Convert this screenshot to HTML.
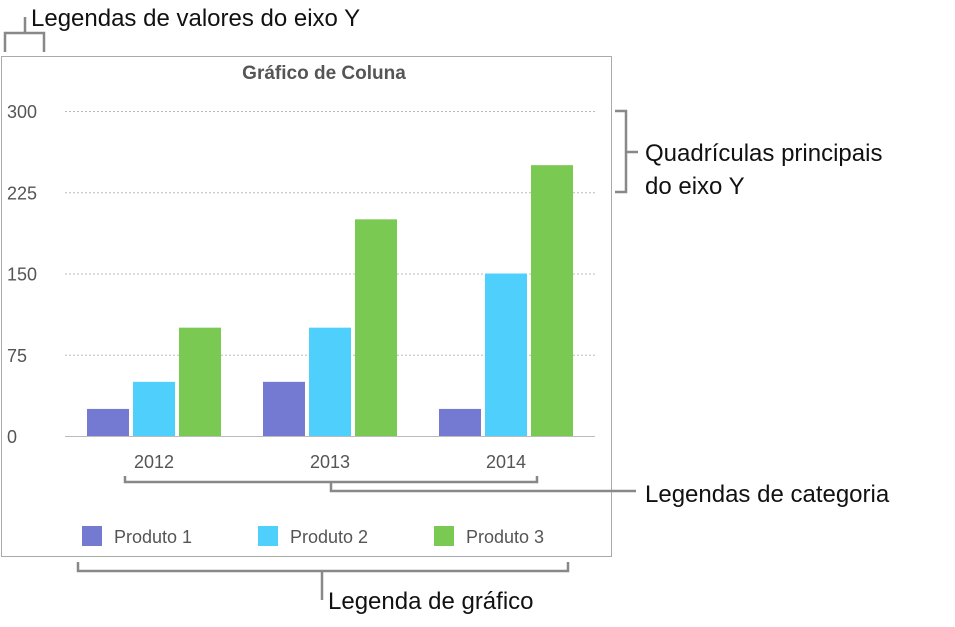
<!DOCTYPE html>
<html><head><meta charset="utf-8"><style>
body{margin:0;width:955px;height:622px;background:#fff;overflow:hidden;font-family:"Liberation Sans",sans-serif}
</style></head><body>
<svg width="955" height="622" viewBox="0 0 955 622" xmlns="http://www.w3.org/2000/svg" style="font-family:'Liberation Sans',sans-serif">
<rect x="1.5" y="56.5" width="610" height="500" fill="#fff" stroke="#aaa"/>
<text x="324" y="79" text-anchor="middle" font-size="19" font-weight="bold" fill="#555">Gráfico de Coluna</text>
<g id="grid"></g>
<g id="ylabels"></g>
<g id="bars"></g>
<g id="xlabels"></g>
<line x1="65" y1="436.5" x2="595" y2="436.5" stroke="#bbb"/>
<g id="legend"></g>
<g fill="none" stroke="#888" stroke-width="2.5">
<path d="M5 52 V33 H44 V52 M25 33 V17"/>
<path d="M615 111 H626 V192 H615 M626 152 H638"/>
<path d="M125 476 V482 H537 V476 M331 482 V491 H636"/>
<path d="M78 562 V571 H568 V562 M322 571 V600"/>
</g>
<g font-size="24" fill="#111">
<text x="31" y="26">Legendas de valores do eixo Y</text>
<text x="645" y="161">Quadrículas principais</text>
<text x="645" y="194">do eixo Y</text>
<text x="645" y="502">Legendas de categoria</text>
<text x="328" y="609">Legenda de gráfico</text>
</g>
</svg>
<script>
const categories=["2012","2013","2014"];
const series=["Produto 1","Produto 2","Produto 3"];
const produto1=[25,50,25];
const produto2=[50,100,150];
const produto3=[100,200,250];
const yTicks=[0,75,150,225,300];
const values=[produto1,produto2,produto3];
const colors=["#7479d2","#4fcffc","#79c952"];
const NS="http://www.w3.org/2000/svg";
const y0=436,pxPer=325/300;
const yScale=v=>y0-v*pxPer;
const xGroup=i=>87+i*176;
function mk(t,a,p){const e=document.createElementNS(NS,t);for(const k in a)e.setAttribute(k,a[k]);p.appendChild(e);return e;}
const grid=document.getElementById('grid'),yl=document.getElementById('ylabels');
yTicks.forEach(v=>{
  if(v>0){const l=mk('line',{x1:65,x2:595,y1:yScale(v)+.5,y2:yScale(v)+.5,stroke:'#bbb','stroke-dasharray':'2,2'},grid);
  
  }
  const t=mk('text',{x:7,y:yScale(v)+7,'font-size':18,fill:'#555'},yl);t.textContent=v;
  
  
});
const bars=document.getElementById('bars'),xl=document.getElementById('xlabels');
categories.forEach((c,i)=>{
  values.forEach((s,j)=>{
    const r=mk('rect',{x:xGroup(i)+j*46,y:yScale(s[i]),width:42,height:s[i]*pxPer,fill:colors[j]},bars);
    
    
  });
  const t=mk('text',{x:xGroup(i)+67,y:468,'text-anchor':'middle','font-size':18,fill:'#555'},xl);t.textContent=c;
  
  
});
const lg=document.getElementById('legend');
series.forEach((s,j)=>{
  const x=82+j*176;
  const r=mk('rect',{x:x,y:526,width:20,height:20,fill:colors[j]},lg);
  
  
  const t=mk('text',{x:x+32,y:543,'font-size':18,fill:'#555'},lg);t.textContent=s;
  
  
});
</script>
</body></html>
